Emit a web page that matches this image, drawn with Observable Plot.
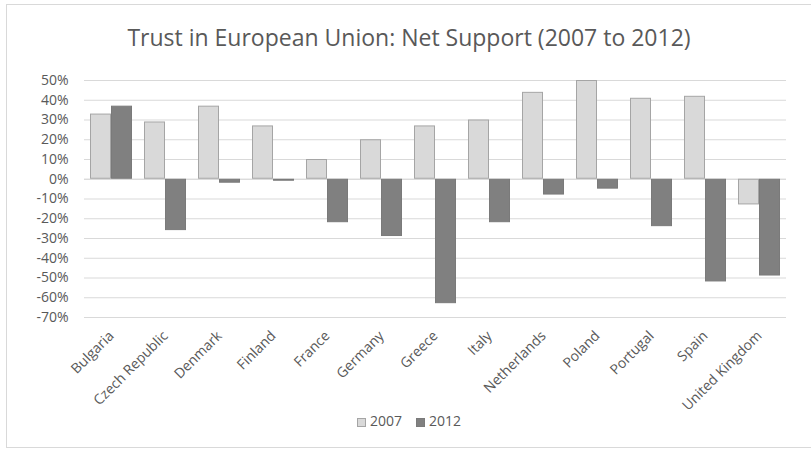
<!DOCTYPE html>
<html><head><meta charset="utf-8">
<script src="https://cdn.jsdelivr.net/npm/d3@7"></script>
<script src="https://cdn.jsdelivr.net/npm/@observablehq/plot@0.6"></script>
<style>
body{margin:0;background:#fff;font-family:"Open Sans",sans-serif;}
#frame{position:absolute;left:6px;top:4px;width:820px;height:444px;border:1px solid #d9d9d9;box-sizing:border-box;}
#title{position:absolute;left:0;top:23px;width:818px;text-align:center;font-size:23px;line-height:28px;color:#595959;}
#chart{position:absolute;left:0;top:60px;}
#legend{position:absolute;left:0;top:411px;width:818px;text-align:center;font-size:14px;line-height:20px;color:#595959;}
#legend span.sw{display:inline-block;width:9px;height:9px;vertical-align:-1px;margin-right:4px;box-sizing:border-box;}
#legend span.it{margin:0 7px;}
</style></head>
<body>
<div id="frame"></div>
<div id="title">Trust in European Union: Net Support (2007 to 2012)</div>
<div id="chart"></div>
<div id="legend"></div>
<script>
const countries = ["Bulgaria","Czech Republic","Denmark","Finland","France","Germany","Greece","Italy","Netherlands","Poland","Portugal","Spain","United Kingdom"];
const years = ["2007","2012"];
const values2007 = [33,29,37,27,10,20,27,30,44,50,41,42,-13];
const values2012 = [37,-26,-2,-1,-22,-29,-63,-22,-8,-5,-24,-52,-49];
const yTicks = [50,40,30,20,10,0,-10,-20,-30,-40,-50,-60,-70];
const fills = {"2007":"#d9d9d9","2012":"#808080"};
const strokes = {"2007":"#a5a5a5","2012":"#7a7a7a"};

const data = [];
countries.forEach((c,i)=>{
  data.push({country:c, year:"2007", value:values2007[i]});
  data.push({country:c, year:"2012", value:values2012[i]});
});

const plot = Plot.plot({
  width: 811,
  height: 350,
  marginLeft: 82,
  marginRight: 23,
  marginTop: 20,
  marginBottom: 93,
  style:{fontFamily:"Open Sans, sans-serif", fontSize:"14px", color:"#595959", background:"transparent", overflow:"visible"},
  fx:{domain:countries, padding:0, label:null, tickSize:0, tickRotate:-45, tickPadding:16},
  x:{domain:years, paddingInner:0, paddingOuter:0.235, axis:null},
  y:{domain:[-70,50], ticks:yTicks, tickFormat:d=>d+"%", label:null, tickSize:0, tickPadding:16},
  marks:[
    Plot.gridY(yTicks,{stroke:"#d9d9d9", strokeOpacity:1, strokeWidth:1}),
    Plot.ruleY([0],{stroke:"#d9d9d9", strokeWidth:1}),
    Plot.barY(data,{fx:"country", x:"year", y:"value", fill:d=>fills[d.year], stroke:d=>strokes[d.year], strokeWidth:1, inset:0.5})
  ]
});
document.getElementById("chart").appendChild(plot);

const lg = document.getElementById("legend");
years.forEach(y=>{
  const it = document.createElement("span");
  it.className="it";
  const sw = document.createElement("span");
  sw.className="sw";
  sw.style.background=fills[y];
  sw.style.border="1px solid "+strokes[y];
  it.appendChild(sw);
  it.appendChild(document.createTextNode(y));
  lg.appendChild(it);
});
</script>
</body></html>
